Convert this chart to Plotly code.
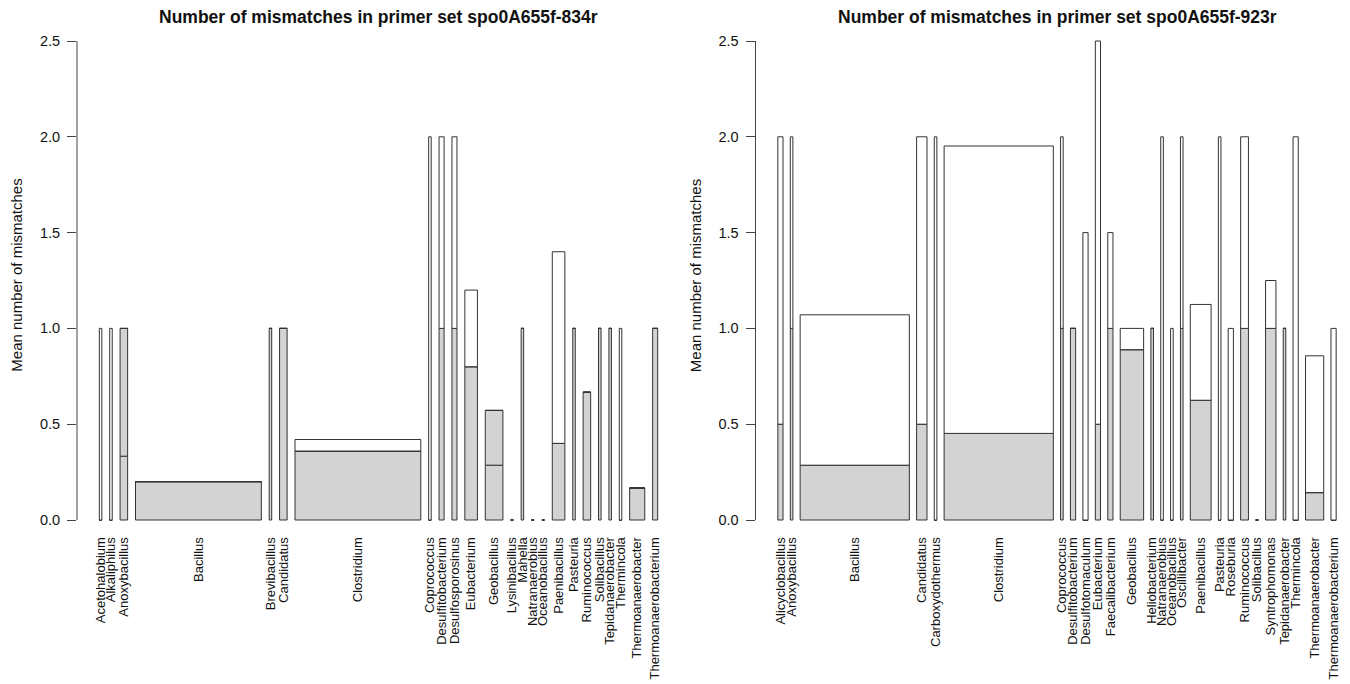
import numpy as np
import plotly.graph_objects as go

# ---------------- data: primer set spo0A655f-834r ----------------
genera_834 = ["Acetohalobium", "Alkaliphilus", "Anoxybacillus", "Bacillus", "Brevibacillus",
              "Candidatus", "Clostridium", "Coprococcus", "Desulfitobacterium", "Desulfosporosinus",
              "Eubacterium", "Geobacillus", "Lysinibacillus", "Mahella", "Natranaerobius",
              "Oceanobacillus", "Paenibacillus", "Pasteuria", "Ruminococcus", "Solibacillus",
              "Tepidanaerobacter", "Thermincola", "Thermoanaerobacter", "Thermoanaerobacterium"]
n_seq_834 = [1, 1, 3, 50, 1, 3, 50, 1, 2, 2, 5, 7, 1, 1, 1, 1, 5, 1, 3, 1, 1, 1, 6, 2]
grey_834 = [0, 0, 0.333, 0.2, 1.0, 1.0, 0.36, 0, 1.0, 1.0, 0.8, 0.286, 0, 1.0, 0, 0,
            0.4, 1.0, 0.667, 1.0, 1.0, 0, 0.167, 1.0]
grey2_834 = [0, 0, 0.667, 0, 0, 0, 0, 0, 0, 0, 0, 0.286, 0, 0, 0, 0,
             0, 0, 0, 0, 0, 0, 0, 0]
white_834 = [1.0, 1.0, 0, 0, 0, 0, 0.06, 2.0, 1.0, 1.0, 0.4, 0, 0, 0, 0, 0,
             1.0, 0, 0, 0, 0, 1.0, 0, 0]

# ---------------- data: primer set spo0A655f-923r ----------------
genera_923 = ["Alicyclobacillus", "Anoxybacillus", "Bacillus", "Candidatus", "Carboxydothermus",
              "Clostridium", "Coprococcus", "Desulfitobacterium", "Desulfotomaculum", "Eubacterium",
              "Faecalibacterium", "Geobacillus", "Heliobacterium", "Natranaerobius", "Oceanobacillus",
              "Oscillibacter", "Paenibacillus", "Pasteuria", "Roseburia", "Ruminococcus",
              "Solibacillus", "Syntrophomonas", "Tepidanaerobacter", "Thermincola",
              "Thermoanaerobacter", "Thermoanaerobacterium"]
n_seq_923 = [2, 1, 42, 4, 1, 42, 1, 2, 2, 2, 2, 9, 1, 1, 1, 1, 8, 1, 2, 3, 1, 4, 1, 2, 7, 2]
grey_923 = [0.5, 1.0, 0.286, 0.5, 0, 0.452, 1.0, 1.0, 0, 0.5, 1.0, 0.889, 1.0, 0, 0,
            1.0, 0.625, 0, 0, 1.0, 0, 1.0, 1.0, 0, 0.143, 0]
grey2_923 = [0] * 26
white_923 = [1.5, 1.0, 0.785, 1.5, 2.0, 1.5, 1.0, 0, 1.5, 2.0, 0.5, 0.111, 0, 2.0, 1.0,
             1.0, 0.5, 2.0, 1.0, 1.0, 0, 0.25, 0, 2.0, 0.714, 1.0]

titles = ["Number of mismatches in primer set spo0A655f-834r",
          "Number of mismatches in primer set spo0A655f-923r"]
y_title = "Mean number of mismatches"
y_ticks = [0, 0.5, 1.0, 1.5, 2.0, 2.5]
y_tick_labels = ["0.0", "0.5", "1.0", "1.5", "2.0", "2.5"]

# ---------------- layout constants (pixels) ----------------
FIG_W, FIG_H = 1350, 684
FONT = "Liberation Sans, Arial, sans-serif"
GREY = "#d3d3d3"
EDGE = "#333333"
SPACE = 0.5                     # gap as fraction of mean bar width
Y_ZERO_PX, Y_TOP_PX = 520, 41   # pixel rows of y=0 and y=2.5
Y_MIN, Y_MAX = -0.05, 2.6
REGION_W = 603                  # plot region width in px
PANEL_X0 = [77, 755.5]          # left edge (y axis) of each panel

ppu_y = (Y_ZERO_PX - Y_TOP_PX) / 2.5
bot_px = Y_ZERO_PX - Y_MIN * ppu_y
top_px = Y_ZERO_PX - Y_MAX * ppu_y
y_domain = [1 - bot_px / FIG_H, 1 - top_px / FIG_H]


def bar_layout(widths):
    w = np.asarray(widths, float)
    gap = SPACE * w.mean()
    right = np.cumsum(gap + w)
    centers = right - w / 2
    lo, hi = right[0] - w[0], right[-1]
    ext = 0.04 * (hi - lo)
    return centers, (lo - ext, hi + ext)


fig = go.Figure()
panels = [(genera_834, n_seq_834, grey_834, grey2_834, white_834),
          (genera_923, n_seq_923, grey_923, grey2_923, white_923)]

for i, (gen, nseq, g1, g2, wh) in enumerate(panels):
    xa = "x" if i == 0 else "x2"
    ya = "y" if i == 0 else "y2"
    centers, (r0, r1) = bar_layout(nseq)
    ppu_x = REGION_W / (r1 - r0)
    px0 = PANEL_X0[i]
    px1 = min(px0 + REGION_W, FIG_W)
    rng = [r0, r0 + (px1 - px0) / ppu_x]

    g1a = np.asarray(g1, float)
    g2a = np.asarray(g2, float)
    wha = np.asarray(wh, float)
    segs = [(g1a, np.zeros_like(g1a), GREY),
            (g2a, g1a, GREY),
            (wha, g1a + g2a, "white")]
    for h, b, col in segs:
        fig.add_trace(go.Bar(x=centers, y=h, base=b, width=nseq, xaxis=xa, yaxis=ya,
                             marker=dict(color=col, line=dict(color=EDGE, width=1)),
                             showlegend=False, hoverinfo="skip"))

    axkey = "xaxis" if i == 0 else "xaxis2"
    aykey = "yaxis" if i == 0 else "yaxis2"
    fig.update_layout(**{
        axkey: dict(domain=[px0 / FIG_W, px1 / FIG_W], range=rng, anchor=ya,
                    tickvals=centers, ticktext=gen, tickangle=-90, ticks="",
                    showline=False, showgrid=False, zeroline=False, fixedrange=True,
                    tickfont=dict(family=FONT, size=13, color="#111"),
                    ticklabelstandoff=4),
        aykey: dict(domain=y_domain, range=[Y_MIN, Y_MAX], anchor=xa,
                    tickvals=y_ticks, ticktext=y_tick_labels, ticks="outside",
                    ticklen=9, tickwidth=1, tickcolor="#444",
                    showline=False, showgrid=False, zeroline=False, fixedrange=True,
                    tickfont=dict(family=FONT, size=14.5, color="#111"),
                    ticklabelstandoff=4),
    })
    fig.add_shape(type="line", xref=f"{xa} domain", yref=ya, x0=0, x1=0, y0=0, y1=2.5,
                  line=dict(color="#444", width=1))
    fig.add_annotation(text=f"<b>{titles[i]}</b>", xref="paper", yref="paper",
                       x=(px0 + REGION_W / 2) / FIG_W, y=1 - 17 / FIG_H,
                       xanchor="center", yanchor="middle", showarrow=False,
                       font=dict(family=FONT, size=17.5, color="#111"))
    fig.add_annotation(text=y_title, xref="paper", yref="paper", textangle=-90,
                       x=(px0 - 60) / FIG_W, y=1 - ((top_px + bot_px) / 2 + 0) / FIG_H,
                       xanchor="center", yanchor="middle", showarrow=False,
                       font=dict(family=FONT, size=15, color="#111"))

fig.update_layout(width=FIG_W, height=FIG_H, barmode="overlay",
                  margin=dict(l=0, r=0, t=0, b=0, autoexpand=False),
                  paper_bgcolor="white", plot_bgcolor="white",
                  font=dict(family=FONT))

fig.write_html("out.html")
